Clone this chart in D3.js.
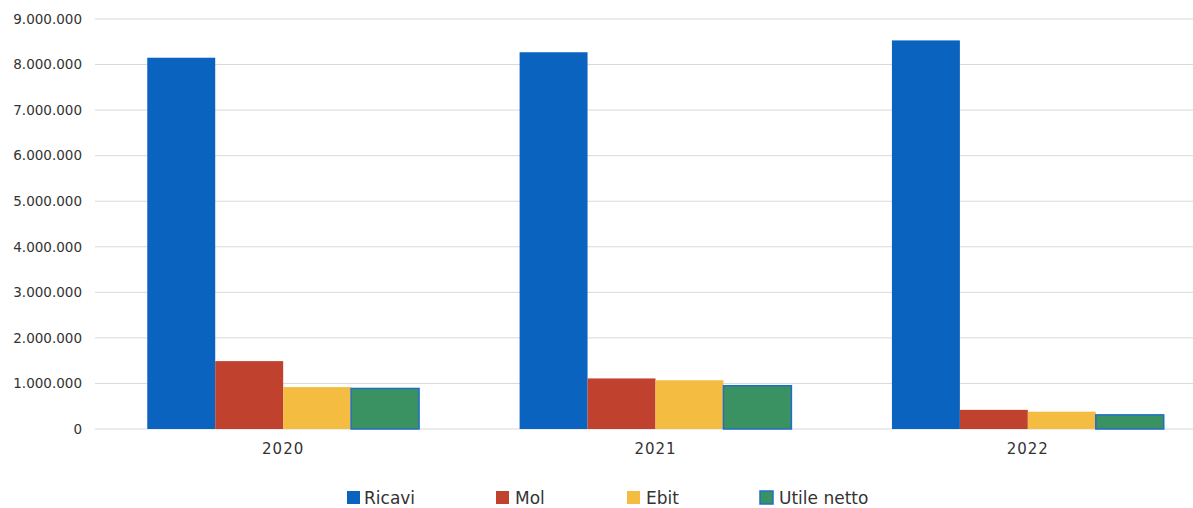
<!DOCTYPE html>
<html>
<head>
<meta charset="utf-8">
<script src="https://cdn.jsdelivr.net/npm/d3@7"></script>
<style>
  body { margin: 0; background: #fff; }
  text { font-family: "DejaVu Sans", Verdana, sans-serif; fill: #333; }
</style>
</head>
<body>
<div id="chart"></div>
<script>
// data
var years = ["2020", "2021", "2022"];
var seriesNames = ["Ricavi", "Mol", "Ebit", "Utile netto"];
var ricavi = [8150000, 8270000, 8530000];
var mol = [1490000, 1110000, 420000];
var ebit = [920000, 1070000, 380000];
var utileNetto = [890000, 950000, 310000];
var yTicks = [0, 1000000, 2000000, 3000000, 4000000, 5000000, 6000000, 7000000, 8000000, 9000000];

var colors = ["#0a63bf", "#c0422e", "#f4bd42", "#3a9162"];

var svgWidth = 1193;
var svgHeight = 508;

var svg = d3.select("#chart")
    .append("svg")
    .attr("width", svgWidth)
    .attr("height", svgHeight);

var allValues = [ricavi, mol, ebit, utileNetto];
var table = years.map(function (y, i) {
  return { year: y, values: seriesNames.map(function (s, j) { return { name: s, idx: j, value: allValues[j][i] }; }) };
});

// scales
var x0 = d3.scaleBand()
    .domain(years)
    .range([97, 1214])
    .paddingInner(0.27)
    .paddingOuter(0.135);

var x1 = d3.scaleBand()
    .domain(seriesNames)
    .range([0, x0.bandwidth()]);

var yScale = d3.scaleLinear()
    .domain([0, 9000000])
    .range([429, 19]);

var fmt = function (d) { return d3.format(",")(d).replace(/,/g, "."); };

// gridlines
svg.append("g")
    .selectAll("line")
    .data(yTicks)
    .enter()
    .append("line")
    .attr("x1", 95)
    .attr("x2", svgWidth)
    .attr("y1", d => yScale(d))
    .attr("y2", d => yScale(d))
    .attr("stroke", "#d9d9d9")
    .attr("stroke-width", 1);

// y axis labels
var yAxis = d3.axisLeft(yScale).tickValues(yTicks).tickFormat(fmt).tickSize(0).tickPadding(0);
var yG = svg.append("g")
    .attr("transform", "translate(82,0)")
    .call(yAxis);
yG.select(".domain").remove();
yG.selectAll("text")
    .attr("font-size", "13.5px")
    .attr("fill", "#333")
    .style("font-family", "DejaVu Sans, sans-serif");

// bars
var groups = svg.append("g")
    .selectAll("g")
    .data(table)
    .enter()
    .append("g")
    .attr("transform", d => `translate(${x0(d.year)},0)`);

groups.selectAll("rect")
    .data(d => d.values)
    .enter()
    .append("rect")
    .attr("x", d => x1(d.name))
    .attr("width", x1.bandwidth())
    .attr("y", d => yScale(d.value))
    .attr("height", d => yScale(0) - yScale(d.value))
    .attr("fill", d => colors[d.idx])
    .attr("stroke", d => d.idx === 3 ? "#1f6fc8" : "none")
    .attr("stroke-width", 1.5);

// category labels
var xAxis = d3.axisBottom(x0).tickSize(0).tickPadding(0);
var xG = svg.append("g")
    .attr("transform", "translate(0,443)")
    .call(xAxis);
xG.select(".domain").remove();
xG.selectAll("text")
    .attr("font-size", "15px")
    .attr("letter-spacing", "1px")
    .attr("fill", "#333")
    .style("font-family", "DejaVu Sans, sans-serif");

// legend
var legendX = [347, 496, 627, 760];
var legend = svg.append("g")
    .selectAll("g")
    .data(seriesNames)
    .enter()
    .append("g")
    .attr("transform", (d, i) => `translate(${legendX[i]},491)`);

legend.append("rect")
    .attr("width", 13)
    .attr("height", 13)
    .attr("fill", (d, i) => colors[i])
    .attr("stroke", (d, i) => i === 3 ? "#1f6fc8" : "none")
    .attr("stroke-width", 1.5);

legend.append("text")
    .attr("x", (d, i) => i === 0 ? 17 : 19)
    .attr("y", 13)
    .attr("font-size", "17px")
    .attr("fill", "#222")
    .text(d => d);
</script>
</body>
</html>
